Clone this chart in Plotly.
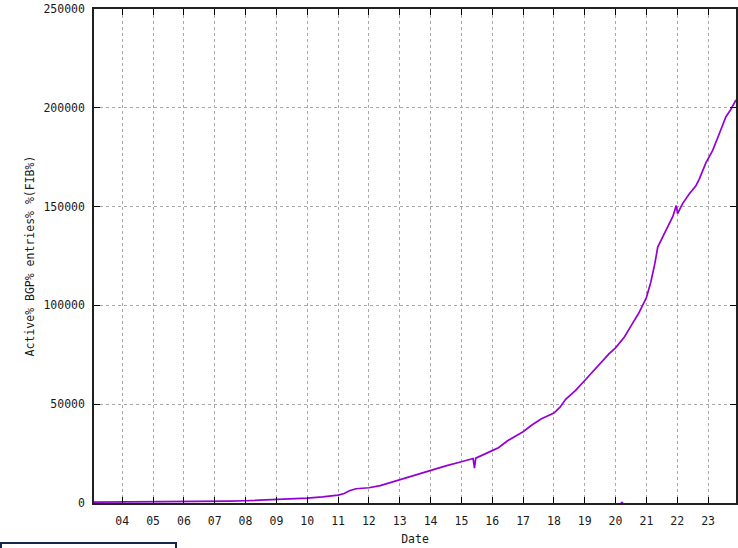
import plotly.graph_objects as go

# ---- data ----
dates = [
    "2003-02-01", "2003-07-01", "2004-01-01", "2004-07-01", "2005-01-01", "2005-07-01",
    "2006-01-01", "2006-07-01", "2007-01-01", "2007-07-01", "2008-01-01", "2008-07-01",
    "2009-01-01", "2009-07-01", "2010-01-01", "2010-07-01", "2010-10-15", "2011-01-01",
    "2011-03-15", "2011-05-15", "2011-08-01", "2011-10-15", "2012-01-01", "2012-05-15",
    "2012-09-01", "2013-01-01", "2013-07-01", "2014-01-01", "2014-07-01", "2015-01-01",
    "2015-05-20", "2015-06-05", "2015-06-20", "2016-01-01", "2016-03-15", "2016-07-01",
    "2017-01-01", "2017-04-15", "2017-08-01", "2018-01-01", "2018-03-15", "2018-05-20",
    "2018-09-15", "2019-01-01", "2019-07-01", "2019-10-15", "2020-01-01", "2020-04-15",
    "2020-07-01", "2020-10-01", "2021-01-01", "2021-02-20", "2021-04-10", "2021-05-15",
    "2021-08-20", "2021-11-10", "2021-12-20", "2022-01-05", "2022-03-05", "2022-05-25",
    "2022-08-10", "2022-09-20", "2022-12-05", "2023-02-25", "2023-05-15", "2023-08-01",
    "2023-09-25", "2023-11-28",
]
entries = [
    480, 500, 530, 560, 620, 680,
    720, 760, 850, 950, 1150, 1400,
    1650, 2000, 2500, 3100, 3600, 4000,
    4800, 6200, 7200, 7400, 7700, 8800,
    10200, 12000, 14000, 16300, 18800, 20900,
    22500, 17600, 22700, 26500, 28000, 31500,
    36100, 39500, 42500, 45500, 48500, 52500,
    57000, 62000, 70500, 75500, 78500, 84000,
    89500, 96000, 104000, 111500, 121000, 129500,
    138000, 145000, 150500, 146500, 151500, 156500,
    160500, 164000, 172000, 178500, 187000, 195500,
    199000, 204000,
]
outlier_dates = ["2020-03-17"]
outlier_values = [0]

year_ticks = [f"{y}-01-01" for y in range(2004, 2024)]
year_labels = [f"{y % 100:02d}" for y in range(2004, 2024)]
y_ticks = [0, 50000, 100000, 150000, 200000, 250000]

LINE = "#9400d3"
FONT = "DejaVu Sans Mono"

fig = go.Figure()
fig.add_trace(go.Scatter(x=dates, y=entries, mode="lines",
                         line=dict(color=LINE, width=1.7), showlegend=False))
fig.add_trace(go.Scatter(x=outlier_dates, y=outlier_values, mode="markers",
                         marker=dict(color=LINE, size=3), showlegend=False))

W, H = 738, 548
L, R, T, B = 94, 2, 9, 45
pw = W - L - R
ph = H - T - B

axis_common = dict(
    showline=True, linecolor="#202020", linewidth=1.5, mirror="allticks",
    ticks="inside", ticklen=6, tickwidth=1, tickcolor="#000000",
    showgrid=True, gridcolor="#a8a8a8", griddash="dot", gridwidth=1,
    zeroline=False,
    tickfont=dict(family=FONT, size=11.5, color="#1a1a1a"),
)

fig.update_xaxes(
    type="date", range=["2003-02-01", "2023-11-28"],
    tickmode="array", tickvals=year_ticks, ticktext=year_labels,
    ticklabelstandoff=6,
    title=dict(text="Date", font=dict(family=FONT, size=11.5, color="#1a1a1a"), standoff=8),
    automargin=False,
    **axis_common,
)
fig.update_yaxes(
    range=[0, 250000], tickmode="array", tickvals=y_ticks,
    ticktext=[str(v) for v in y_ticks],
    ticklabelstandoff=5,
    title=dict(text="Active% BGP% entries% %(FIB%)",
               font=dict(family=FONT, size=11.5, color="#1a1a1a"), standoff=6),
    automargin=False,
    **axis_common,
)

# partial overlay box seen at the bottom-left edge of the screenshot
fig.add_shape(type="rect", xref="paper", yref="paper",
              x0=(1 - L) / pw, x1=(176 - L) / pw,
              y0=(H - B - 543) / ph, y1=(H - B - 570) / ph,
              line=dict(color="#14284b", width=2), fillcolor="white", layer="above")

fig.update_layout(
    width=W, height=H,
    margin=dict(l=L, r=R, t=T, b=B),
    paper_bgcolor="white", plot_bgcolor="white",
    showlegend=False,
)

fig.write_html(
    "out.html",
    config={"displayModeBar": False},
    post_script="document.body.style.margin='0';document.body.style.overflow='hidden';",
)
